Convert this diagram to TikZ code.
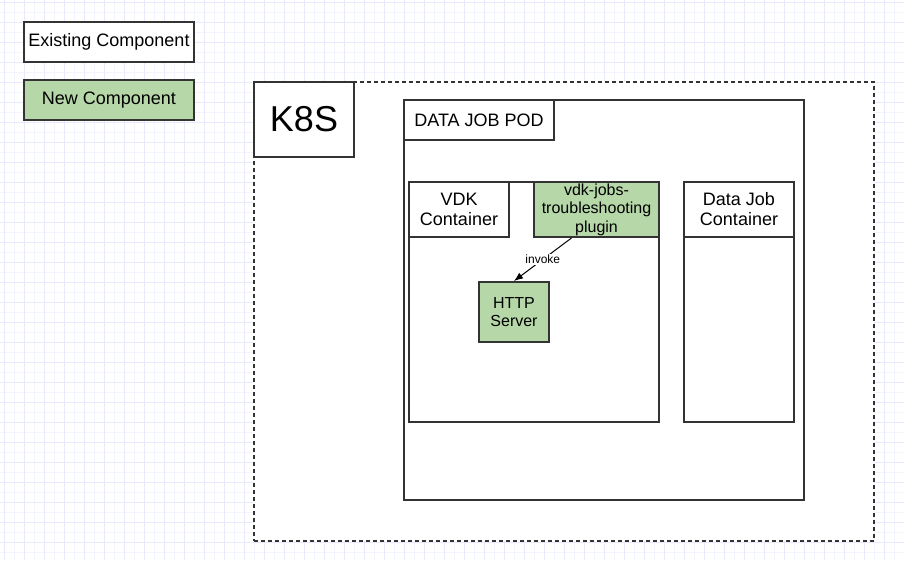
\documentclass[tikz,border=0pt]{standalone}
\usepackage{fontspec}
\setmainfont{Liberation Sans}
\usepackage{tikz}
\usetikzlibrary{arrows,arrows.meta,positioning}
\definecolor{newgreen}{HTML}{B6D7A8}
\definecolor{edge}{HTML}{333333}
\definecolor{gridminor}{HTML}{F4F4FE}
\definecolor{gridmajor}{HTML}{E9E9FC}
\tikzset{
  box/.style={draw=edge, line width=2pt, fill=white, align=center, inner sep=0pt, text=black},
  newbox/.style={box, fill=newgreen},
  big/.style={font=\fontsize{18}{20}\selectfont},
  small/.style={font=\fontsize{16}{18.5}\selectfont},
}

\begin{document}
\begin{tikzpicture}[x=1pt, y=-1pt]
\useasboundingbox (0,0) rectangle (904,560);
% grid
\foreach \gx in {4.7,14.7,...,904} \draw[gridminor, line width=1pt] (\gx,0) -- (\gx,560);
\foreach \gy in {2.7,12.7,...,560} \draw[gridminor, line width=1pt] (0,\gy) -- (904,\gy);
\foreach \gx in {4.7,24.7,...,904} \draw[gridmajor, line width=1pt] (\gx,0) -- (\gx,560);
\foreach \gy in {2.7,22.7,...,560} \draw[gridmajor, line width=1pt] (0,\gy) -- (904,\gy);

% legend
\node[box, big, minimum width=170pt, minimum height=40pt] (exist) at (109,42) {Existing Component};
\node[newbox, big, minimum width=170pt, minimum height=40pt] (new) at (109,100) {New Component};

% cluster
\node[box, dash pattern=on 4pt off 3pt, minimum width=620pt, minimum height=459pt] (k8s) at (564,311.5) {};
\node[box, font=\fontsize{36}{40}\selectfont, minimum width=100pt, minimum height=75pt] (k8slabel) at (304,119.5) {K8S};

% pod
\node[box, minimum width=400pt, minimum height=400pt] (pod) at (604,300) {};
\node[box, big, minimum width=150pt, minimum height=40pt] (podlabel) at (479,120) {DATA JOB POD};

% vdk container
\node[box, minimum width=250pt, minimum height=240pt] (vdk) at (534,302) {};
\node[box, big, minimum width=100pt, minimum height=55pt] (vdklabel) at (459,209.5) {VDK\\Container};
\node[newbox, small, minimum width=125pt, minimum height=55pt] (plugin) at (596.5,209.5) {vdk-jobs-\\troubleshooting\\plugin};
\node[newbox, small, minimum width=70pt, minimum height=60pt] (http) at (514,312) {HTTP\\Server};

% data job container
\node[box, minimum width=110pt, minimum height=240pt] (djc) at (739,302) {};
\node[box, big, minimum width=110pt, minimum height=55pt] (djclabel) at (739,209.5) {Data Job\\Container};

\draw[-{Latex[length=9pt,width=7pt]}, line width=1pt] ([xshift=-25pt]plugin.south) -- (http.north)
  node[midway, fill=white, inner sep=1.5pt, font=\fontsize{12}{14}\selectfont] {invoke};

\end{tikzpicture}
\end{document}
